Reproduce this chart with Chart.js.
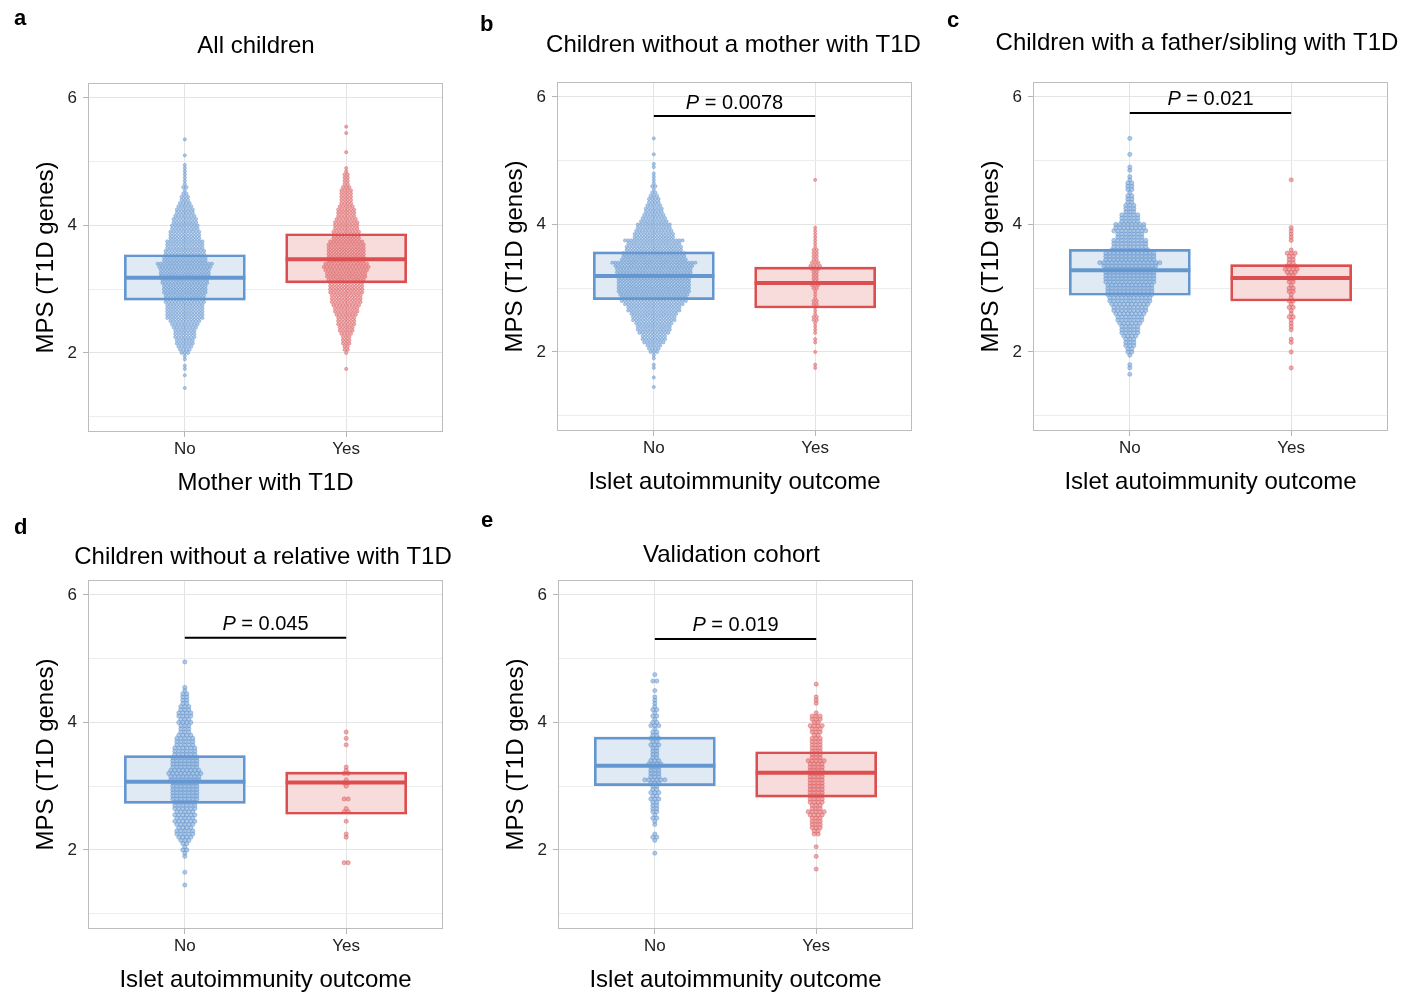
<!DOCTYPE html>
<html>
<head>
<meta charset="utf-8">
<title>MPS (T1D genes) by group</title>
<script src="https://cdn.jsdelivr.net/npm/chart.js@4.4.1/dist/chart.umd.min.js"></script>
<style>
  body { margin: 0; background: #fff; }
  #figure { position: relative; width: 1416px; height: 992px; overflow: hidden; background: #fff; }
  #figure canvas { position: absolute; }
</style>
</head>
<body>
<div id="figure">
  <canvas id="panelA" width="470" height="500" style="left:0;top:0"></canvas>
  <canvas id="panelB" width="470" height="500" style="left:469px;top:-1px"></canvas>
  <canvas id="panelC" width="470" height="500" style="left:945px;top:-1px"></canvas>
  <canvas id="panelD" width="470" height="500" style="left:0;top:497px"></canvas>
  <canvas id="panelE" width="470" height="500" style="left:470px;top:497px"></canvas>
</div>
<script>
// Categories and tick labels
let groups = ['No', 'Yes'];
let yTicks = [1, 2, 3, 4, 5, 6];
let yTickLabels = ['', '2', '', '4', '', '6'];
let yTitle = 'MPS (T1D genes)';

// Dot counts per MPS bin (bin width 0.05).
let binStep = 0.05;

// a: All children, by mother with T1D
let aNoStart = 1.45;
let aNoCounts = [
  1, 0, 0, 0, 1, 0, 1, 1, 0, 1,
  1, 3, 4, 5, 6, 6, 7, 7, 7, 8,
  9, 10, 12, 12, 12, 12, 12, 13, 13, 13,
  14, 14, 14, 15, 15, 16, 16, 16, 17, 18,
  14, 14, 13, 13, 12, 12, 12, 10, 10, 10,
  9, 9, 8, 8, 7, 6, 6, 5, 4, 3,
  3, 2, 1, 2, 1, 1, 1, 1, 1, 1,
  1, 0, 0, 1, 0, 0, 0, 0, 1
];
let aYesStart = 1.75;
let aYesCounts = [
  1, 0, 0, 0, 0, 1, 2, 2, 3, 3,
  3, 4, 5, 5, 6, 6, 6, 7, 8, 8,
  9, 10, 10, 10, 11, 11, 11, 11, 12, 13,
  13, 14, 15, 14, 12, 12, 12, 12, 12, 12,
  11, 9, 9, 9, 8, 8, 8, 7, 6, 6,
  6, 5, 4, 4, 4, 4, 4, 3, 2, 2,
  2, 2, 1, 1, 0, 0, 0, 0, 1, 0,
  0, 0, 0, 0, 1, 0, 1
];
let aQ1 = [2.83, 3.10];
let aMedian = [3.18, 3.47];
let aQ3 = [3.54, 3.87];

// b: Children without a mother with T1D
let bNoStart = 1.45;
let bNoCounts = [
  1, 0, 0, 1, 0, 0, 1, 1, 0, 1,
  1, 3, 4, 5, 7, 8, 8, 10, 11, 11,
  12, 14, 14, 15, 17, 17, 19, 21, 21, 22,
  23, 23, 23, 23, 23, 23, 24, 24, 25, 27,
  21, 20, 20, 18, 18, 17, 19, 13, 13, 12,
  11, 11, 9, 8, 7, 6, 6, 5, 4, 4,
  3, 2, 1, 2, 1, 1, 1, 1, 0, 1,
  1, 0, 0, 1, 0, 0, 0, 0, 1
];
let bYesStart = 1.75;
let bYesCounts = [
  1, 1, 0, 0, 0, 1, 0, 0, 1, 1,
  0, 1, 1, 1, 1, 2, 2, 1, 1, 1,
  2, 2, 1, 1, 1, 2, 3, 2, 2, 2,
  2, 3, 4, 3, 2, 2, 2, 2, 1, 1,
  1, 1, 1, 1, 1, 0, 0, 0, 0, 0,
  0, 0, 0, 0, 0, 0, 0, 0, 0, 1
];
let bQ1 = [2.82, 2.69];
let bMedian = [3.19, 3.08];
let bQ3 = [3.57, 3.33];
let bP = '0.0078';
let bBracket = 5.70;

// c: Children with a father/sibling with T1D
let cNoStart = 1.65;
let cNoCounts = [
  1, 0, 1, 1, 0, 0, 1, 2, 2, 3,
  3, 3, 4, 5, 5, 5, 6, 7, 7, 8,
  9, 9, 10, 11, 11, 12, 12, 12, 12, 13,
  13, 13, 13, 13, 14, 16, 13, 13, 13, 10,
  9, 9, 9, 7, 7, 9, 8, 8, 5, 5,
  5, 3, 3, 3, 2, 2, 2, 1, 2, 2,
  2, 1, 1, 0, 1, 1, 0, 0, 0, 1,
  0, 0, 0, 0, 1
];
let cYesStart = 1.75;
let cYesCounts = [
  1, 0, 0, 0, 0, 1, 0, 0, 1, 1,
  0, 0, 1, 1, 1, 1, 2, 1, 1, 2,
  1, 2, 1, 1, 2, 2, 1, 2, 2, 2,
  3, 4, 3, 2, 2, 2, 3, 1, 0, 0,
  1, 1, 1, 1, 1, 0, 0, 0, 0, 0,
  0, 0, 0, 0, 0, 0, 0, 0, 0, 1
];
let cQ1 = [2.89, 2.80];
let cMedian = [3.28, 3.16];
let cQ3 = [3.61, 3.37];
let cP = '0.021';
let cBracket = 5.75;

// d: Children without a relative with T1D
let dNoStart = 1.45;
let dNoCounts = [
  1, 0, 0, 0, 1, 0, 0, 0, 0, 1,
  1, 2, 1, 2, 3, 4, 5, 5, 4, 5,
  6, 5, 6, 5, 6, 6, 6, 7, 7, 7,
  7, 7, 7, 8, 8, 9, 8, 7, 7, 7,
  7, 6, 6, 6, 5, 5, 5, 4, 3, 3,
  3, 4, 3, 4, 4, 3, 3, 2, 2, 2,
  2, 1, 1, 0, 0, 0, 0, 0, 0, 0,
  1
];
let dYesStart = 1.80;
let dYesCounts = [
  2, 0, 0, 0, 0, 0, 0, 0, 1, 1,
  0, 0, 0, 1, 0, 0, 2, 1, 0, 0,
  2, 0, 0, 0, 1, 2, 1, 0, 2, 1,
  1, 0, 0, 0, 0, 0, 0, 1, 0, 1,
  0, 1
];
let dQ1 = [2.73, 2.56];
let dMedian = [3.07, 3.06];
let dQ3 = [3.48, 3.22];
let dP = '0.045';
let dBracket = 5.33;

// e: Validation cohort
let eNoStart = 1.95;
let eNoCounts = [
  1, 0, 0, 0, 1, 2, 1, 0, 0, 1,
  1, 2, 1, 2, 2, 2, 2, 3, 2, 3,
  2, 2, 3, 6, 3, 3, 3, 3, 4, 3,
  2, 2, 2, 2, 3, 2, 3, 2, 2, 1,
  3, 2, 1, 2, 1, 2, 1, 1, 1, 1,
  0, 1, 0, 0, 2, 0, 1
];
let eYesStart = 1.70;
let eYesCounts = [
  1, 0, 0, 0, 1, 0, 0, 1, 0, 0,
  0, 2, 2, 3, 3, 3, 3, 4, 5, 3,
  3, 4, 4, 4, 4, 4, 4, 4, 4, 4,
  4, 4, 4, 4, 5, 3, 3, 3, 3, 3,
  3, 3, 2, 3, 3, 4, 2, 3, 3, 1,
  0, 0, 1, 1, 1, 0, 0, 0, 1
];
let eQ1 = [3.01, 2.83];
let eMedian = [3.32, 3.21];
let eQ3 = [3.77, 3.54];
let eP = '0.019';
let eBracket = 5.31;

// Styling
let fontFamily = '"Liberation Sans", Arial, sans-serif';
let lineColors = ['#6497cf', '#db4f51'];
let boxFills = ['#e0eaf5', '#f8dcdc'];
let dotFills = ['rgba(122,166,216,0.6)', 'rgba(230,116,119,0.6)'];
let dotEdges = ['rgba(92,142,203,0.7)', 'rgba(214,84,88,0.7)'];
let pxPerUnit = 355 / 2.2;   // plot width over the x range 0.4..2.6
let boxHalf = 0.375;         // half box width in x units
let boxPx = 2 * boxHalf * pxPerUnit;

Chart.defaults.font.family = fontFamily;

let panels = [
  {id: 'panelA', letter: 'a', title: 'All children', xTitle: 'Mother with T1D',
   noStart: aNoStart, noCounts: aNoCounts, yesStart: aYesStart, yesCounts: aYesCounts,
   q1: aQ1, median: aMedian, q3: aQ3, p: null, pY: null,
   dotGap: 3.2, dotRadius: 1.6, titleShift: -9.5, titleBase: 53, letterX: 14, letterY: 25},
  {id: 'panelB', letter: 'b', title: 'Children without a mother with T1D', xTitle: 'Islet autoimmunity outcome',
   noStart: bNoStart, noCounts: bNoCounts, yesStart: bYesStart, yesCounts: bYesCounts,
   q1: bQ1, median: bMedian, q3: bQ3, p: bP, pY: bBracket,
   dotGap: 3.2, dotRadius: 1.6, titleShift: -1, titleBase: 53, letterX: 11, letterY: 32},
  {id: 'panelC', letter: 'c', title: 'Children with a father/sibling with T1D', xTitle: 'Islet autoimmunity outcome',
   noStart: cNoStart, noCounts: cNoCounts, yesStart: cYesStart, yesCounts: cYesCounts,
   q1: cQ1, median: cMedian, q3: cQ3, p: cP, pY: cBracket,
   dotGap: 4, dotRadius: 2.1, titleShift: -13.5, titleBase: 51, letterX: 2, letterY: 28},
  {id: 'panelD', letter: 'd', title: 'Children without a relative with T1D', xTitle: 'Islet autoimmunity outcome',
   noStart: dNoStart, noCounts: dNoCounts, yesStart: dYesStart, yesCounts: dYesCounts,
   q1: dQ1, median: dMedian, q3: dQ3, p: dP, pY: dBracket,
   dotGap: 4, dotRadius: 2.1, titleShift: -2.5, titleBase: 67, letterX: 14, letterY: 37},
  {id: 'panelE', letter: 'e', title: 'Validation cohort', xTitle: 'Islet autoimmunity outcome',
   noStart: eNoStart, noCounts: eNoCounts, yesStart: eYesStart, yesCounts: eYesCounts,
   q1: eQ1, median: eMedian, q3: eQ3, p: eP, pY: eBracket,
   dotGap: 4, dotRadius: 2.1, titleShift: -4, titleBase: 65, letterX: 11, letterY: 30}
];

// Lay the counts of each bin out as a row of dots centred on the group.
function swarm(start, counts, center, gap) {
  let points = [];
  let step = gap / pxPerUnit;
  counts.forEach((n, i) => {
    let y = Math.round((start + i * binStep) * 100) / 100;
    for (let j = 0; j < n; j++) {
      points.push({x: center + (j - (n - 1) / 2) * step, y: y});
    }
  });
  return points;
}

// Panel frame, p-value label, panel title and letter.
let panelText = {
  id: 'panelText',
  afterDatasetsDraw(chart, args, opts) {
    let {ctx, chartArea: area, scales} = chart;
    ctx.save();
    ctx.strokeStyle = '#bdbdbd';
    ctx.lineWidth = 1;
    ctx.strokeRect(area.left + 0.5, area.top + 0.5, area.width - 1, area.height - 1);
    if (opts.p) {
      let cx = scales.x.getPixelForValue(1.5);
      let y = scales.y.getPixelForValue(opts.pY) - 7.5;
      let rest = ' = ' + opts.p;
      ctx.fillStyle = '#000';
      ctx.textBaseline = 'alphabetic';
      ctx.textAlign = 'left';
      ctx.font = 'italic 20px ' + fontFamily;
      let wP = ctx.measureText('P').width;
      ctx.font = '20px ' + fontFamily;
      let x0 = cx - (wP + ctx.measureText(rest).width) / 2;
      ctx.fillText(rest, x0 + wP, y);
      ctx.font = 'italic 20px ' + fontFamily;
      ctx.fillText('P', x0, y);
    }
    ctx.restore();
  },
  afterDraw(chart, args, opts) {
    let {ctx, chartArea: area} = chart;
    ctx.save();
    ctx.fillStyle = '#000';
    ctx.textBaseline = 'alphabetic';
    ctx.textAlign = 'center';
    ctx.font = '24px ' + fontFamily;
    ctx.fillText(opts.title, (area.left + area.right) / 2 + opts.titleShift, opts.titleBase);
    ctx.textAlign = 'left';
    ctx.font = 'bold 22px ' + fontFamily;
    ctx.fillText(opts.letter, opts.letterX, opts.letterY);
    ctx.restore();
  }
};

panels.forEach(p => {
  let boxData = groups.map((g, i) => ({x: i + 1, y: [p.q1[i], p.q3[i]]}));

  let datasets = [
    // Box fill sits under the dots, outline and median on top.
    {type: 'bar', data: boxData, backgroundColor: boxFills, borderWidth: 0,
     barThickness: boxPx, grouped: false, order: 5},
    {data: swarm(p.noStart, p.noCounts, 1, p.dotGap), pointRadius: p.dotRadius,
     pointBackgroundColor: dotFills[0], pointBorderColor: dotEdges[0], pointBorderWidth: 0.6, order: 4},
    {data: swarm(p.yesStart, p.yesCounts, 2, p.dotGap), pointRadius: p.dotRadius,
     pointBackgroundColor: dotFills[1], pointBorderColor: dotEdges[1], pointBorderWidth: 0.6, order: 4},
    {type: 'bar', data: boxData, backgroundColor: 'rgba(0,0,0,0)', borderColor: lineColors,
     borderWidth: 2, borderSkipped: false, barThickness: boxPx, grouped: false, order: 3}
  ];

  groups.forEach((g, i) => {
    datasets.push({type: 'line', data: [{x: i + 1 - boxHalf, y: p.median[i]}, {x: i + 1 + boxHalf, y: p.median[i]}],
      borderColor: lineColors[i], borderWidth: 4, pointRadius: 0, order: 2});
  });

  if (p.p) {
    datasets.push({type: 'line', data: [{x: 1, y: p.pY}, {x: 2, y: p.pY}],
      borderColor: '#000', borderWidth: 2, pointRadius: 0, order: 1});
  }

  new Chart(document.getElementById(p.id), {
    type: 'scatter',
    data: {datasets: datasets},
    plugins: [panelText],
    options: {
      responsive: false,
      animation: false,
      events: [],
      layout: {padding: {left: 20, right: 27, top: 83, bottom: 0}},
      plugins: {
        legend: {display: false},
        tooltip: {enabled: false},
        panelText: {title: p.title, titleShift: p.titleShift, titleBase: p.titleBase,
          letter: p.letter, letterX: p.letterX, letterY: p.letterY, p: p.p, pY: p.pY}
      },
      scales: {
        x: {
          type: 'linear',
          min: 0.4,
          max: 2.6,
          offset: false,
          afterBuildTicks: s => { s.ticks = groups.map((g, i) => ({value: i + 1})); },
          afterFit: s => { s.height = 68; },
          border: {display: false},
          grid: {offset: false, color: '#e4e4e4', tickColor: '#b5b5b5', tickLength: 5},
          ticks: {callback: (v, i) => groups[i], color: '#222', font: {size: 17},
            padding: 2, maxRotation: 0, autoSkip: false},
          title: {display: true, text: p.xTitle, color: '#000', font: {size: 24},
            padding: {top: 0, bottom: 2}}
        },
        y: {
          type: 'linear',
          min: 0.76,
          max: 6.235,
          afterBuildTicks: s => { s.ticks = yTicks.map(v => ({value: v})); },
          afterFit: s => { s.width = 68; },
          border: {display: false},
          grid: {
            color: c => yTickLabels[c.index] ? '#e4e4e4' : '#ededed',
            tickColor: c => yTickLabels[c.index] ? '#b5b5b5' : 'rgba(0,0,0,0)',
            tickLength: 5
          },
          ticks: {callback: (v, i) => yTickLabels[i], color: '#222', font: {size: 17},
            padding: 6, autoSkip: false},
          title: {display: true, text: yTitle, color: '#000', font: {size: 24},
            padding: {top: 12, bottom: 0}}
        }
      }
    }
  });
});
</script>
</body>
</html>
